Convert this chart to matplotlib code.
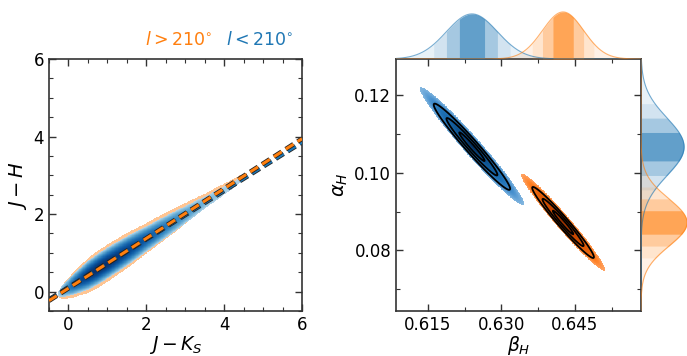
import numpy as np
import matplotlib
matplotlib.use('Agg')
import matplotlib.pyplot as plt
from matplotlib.colors import LinearSegmentedColormap, LogNorm
from matplotlib.ticker import MultipleLocator
import matplotlib.patheffects as pe

BLUE = '#1f77b4'
ORANGE = '#ff7f0e'

# fitted relation  J-H = alpha_H + beta_H * (J-K_S), one entry per group
group_labels = [r'$l < 210^{\circ}$', r'$l > 210^{\circ}$']
group_colors = [BLUE, ORANGE]
alpha_mean = [0.1067, 0.0872]
alpha_sd = [0.0074, 0.0061]
beta_mean = [0.6240, 0.6426]
beta_sd = [0.0052, 0.0042]
alpha_beta_corr = [-0.975, -0.975]
peak_top = [0.92, 0.96]
peak_right = [0.88, 0.94]

# colour-colour cloud: relative density along J-K_S and vertical spread
jk_nodes = [-0.3, -0.2, 0.0, 0.25, 0.5, 0.75, 1.0, 1.5, 2.0, 2.5, 3.0, 3.5, 4.0, 4.5, 5.0]
cloud_density = [0.0, 0.02, 0.1, 0.4, 0.8, 1.0, 0.95, 0.6, 0.3, 0.13, 0.05, 0.02, 0.01, 0.007, 0.0]
cloud_sigma = [0.07, 0.077, 0.093, 0.105, 0.12, 0.125, 0.126, 0.125, 0.116, 0.113, 0.107, 0.097, 0.099, 0.09, 0.08]

XLIM_L = (-0.5, 6)
YLIM_L = (-0.5, 6)
XLIM_R = (0.6085, 0.6585)
YLIM_R = (0.0644, 0.1293)

plt.rcParams['font.size'] = 12
plt.rcParams['mathtext.fontset'] = 'dejavusans'

fig = plt.figure(figsize=(6.87, 3.56), dpi=100)
ax_l = fig.add_axes([0.0713, 0.1264, 0.3683, 0.7079])
ax_r = fig.add_axes([0.5764, 0.1264, 0.3566, 0.7079])
ax_t = fig.add_axes([0.5764, 0.8343, 0.3566, 0.1376], sharex=ax_r)
ax_m = fig.add_axes([0.9330, 0.1264, 0.0713, 0.7079], sharey=ax_r)


def style_axes(ax):
    ax.tick_params(which='both', direction='in', top=True, right=True,
                   color='#333333', labelsize=12)
    ax.tick_params(which='major', length=5, width=1)
    ax.tick_params(which='minor', length=3, width=0.8)
    for s in ax.spines.values():
        s.set_color('#333333')
        s.set_linewidth(1.2)


# ---- left: J-H vs J-K_S ----
xg = np.linspace(XLIM_L[0], XLIM_L[1], 700)
yg = np.linspace(YLIM_L[0], YLIM_L[1], 700)
X, Y = np.meshgrid(xg, yg)
prof = np.interp(X, jk_nodes, cloud_density)
sig = np.interp(X, jk_nodes, cloud_sigma)
thr = 0.006

# orange group: slightly wider spread, drawn underneath
line_o = alpha_mean[1] + beta_mean[1] * X
d_o = prof * np.exp(-0.5 * ((Y - line_o) / (sig * 1.2)) ** 2)
rgba_o = np.zeros(X.shape + (4,))
rgba_o[..., :3] = matplotlib.colors.to_rgb(ORANGE)
rgba_o[..., 3] = np.where(d_o > thr, 0.45, 0.0)
ax_l.imshow(rgba_o, extent=[*XLIM_L, *YLIM_L], origin='lower', aspect='auto',
            interpolation='nearest', zorder=1)

line_b = alpha_mean[0] + beta_mean[0] * X
d_b = prof * np.exp(-0.5 * ((Y - line_b) / sig) ** 2)
blues = LinearSegmentedColormap.from_list(
    'cb', plt.cm.Blues(np.linspace(0.3, 1.0, 256)))
rgba_b = blues(LogNorm(thr, 1.0, clip=True)(d_b))
rgba_b[..., 3] = np.where(d_b > thr, 1.0, 0.0)
ax_l.imshow(rgba_b, extent=[*XLIM_L, *YLIM_L], origin='lower', aspect='auto',
            interpolation='nearest', zorder=2)

xl = np.array(XLIM_L)
for i in [0, 1]:
    ax_l.plot(xl, alpha_mean[i] + beta_mean[i] * xl, color=group_colors[i],
              lw=2.2, dashes=(3, 1.6), zorder=3 + i,
              path_effects=[pe.Stroke(linewidth=3.4, foreground='#222222'), pe.Normal()])

ax_l.set_xlim(XLIM_L)
ax_l.set_ylim(YLIM_L)
ax_l.xaxis.set_major_locator(MultipleLocator(2))
ax_l.yaxis.set_major_locator(MultipleLocator(2))
ax_l.xaxis.set_minor_locator(MultipleLocator(0.5))
ax_l.yaxis.set_minor_locator(MultipleLocator(0.5))
ax_l.set_xlabel(r'$J-K_S$', fontsize=13.5, labelpad=0)
ax_l.set_ylabel(r'$J-H$', fontsize=14, labelpad=3)
style_axes(ax_l)

ax_l.text(0.38, 1.075, group_labels[1], color=ORANGE, fontsize=12.5,
          transform=ax_l.transAxes, ha='left', va='center')
ax_l.text(0.70, 1.075, group_labels[0], color=BLUE, fontsize=12.5,
          transform=ax_l.transAxes, ha='left', va='center')

# ---- right: alpha_H vs beta_H ----
bg = np.linspace(XLIM_R[0], XLIM_R[1], 600)
ag = np.linspace(YLIM_R[0], YLIM_R[1], 600)
B, A = np.meshgrid(bg, ag)
cloud_cmaps = [
    LinearSegmentedColormap.from_list('bl', ['#062c58', '#0b4a85', '#15609f', '#1f72b6', '#4a92cf', '#86b8e0']),
    LinearSegmentedColormap.from_list('or', ['#8e2e00', '#bb3f00', '#d24f00', '#e6610a', '#ff8024', '#ffa566']),
]
rmax = 2.05
for i in [0, 1]:
    zb = (B - beta_mean[i]) / beta_sd[i]
    za = (A - alpha_mean[i]) / alpha_sd[i]
    rho = alpha_beta_corr[i]
    r = np.sqrt((zb ** 2 - 2 * rho * zb * za + za ** 2) / (1 - rho ** 2))
    rgba = cloud_cmaps[i](np.clip(r / rmax, 0, 1))
    rgba[..., 3] = np.where(r < rmax, 1.0, 0.0)
    ax_r.imshow(rgba, extent=[*XLIM_R, *YLIM_R], origin='lower', aspect='auto',
                interpolation='nearest', zorder=1)
    ax_r.contour(B, A, r, levels=[0.5, 1.0, 1.5], colors='k', linewidths=1.3, zorder=2)

ax_r.set_xlim(XLIM_R)
ax_r.set_ylim(YLIM_R)
ax_r.set_xticks([0.615, 0.630, 0.645])
ax_r.set_yticks([0.08, 0.10, 0.12])
ax_r.xaxis.set_minor_locator(MultipleLocator(0.0075))
ax_r.yaxis.set_minor_locator(MultipleLocator(0.01))
ax_r.set_xlabel(r'$\beta_H$', fontsize=13.5, labelpad=0)
ax_r.set_ylabel(r'$\alpha_H$', fontsize=14, labelpad=3)
style_axes(ax_r)


# ---- marginals with shaded sigma bands ----
band_alpha = [0.7, 0.4, 0.2, 0.1]


def marginal(ax, mu, sd, peak, color, lim, vertical=False):
    segs = [(-np.inf, -1.5), (-1.5, -1.0), (-1.0, -0.5), (-0.5, 0.5),
            (0.5, 1.0), (1.0, 1.5), (1.5, np.inf)]
    alphas = [band_alpha[3], band_alpha[2], band_alpha[1], band_alpha[0],
              band_alpha[1], band_alpha[2], band_alpha[3]]
    for (a, b), al in zip(segs, alphas):
        lo = max(lim[0], mu + a * sd)
        hi = min(lim[1], mu + b * sd)
        if hi <= lo:
            continue
        t = np.linspace(lo, hi, 200)
        g = peak * np.exp(-0.5 * ((t - mu) / sd) ** 2)
        if vertical:
            ax.fill_betweenx(t, 0, g, color=color, alpha=al, lw=0)
        else:
            ax.fill_between(t, 0, g, color=color, alpha=al, lw=0)
    t = np.linspace(lim[0], lim[1], 800)
    g = peak * np.exp(-0.5 * ((t - mu) / sd) ** 2)
    if vertical:
        ax.plot(g, t, color=color, lw=0.8, alpha=0.6)
    else:
        ax.plot(t, g, color=color, lw=0.8, alpha=0.6)


for i in [0, 1]:
    marginal(ax_t, beta_mean[i], beta_sd[i], peak_top[i], group_colors[i], XLIM_R)
    marginal(ax_m, alpha_mean[i], alpha_sd[i], peak_right[i], group_colors[i], YLIM_R,
             vertical=True)

ax_t.set_ylim(0, 1)
ax_m.set_xlim(0, 1)
ax_t.axis('off')
ax_m.axis('off')
ax_r.set_xlim(XLIM_R)
ax_r.set_ylim(YLIM_R)

fig.savefig('out.png', dpi=100)
